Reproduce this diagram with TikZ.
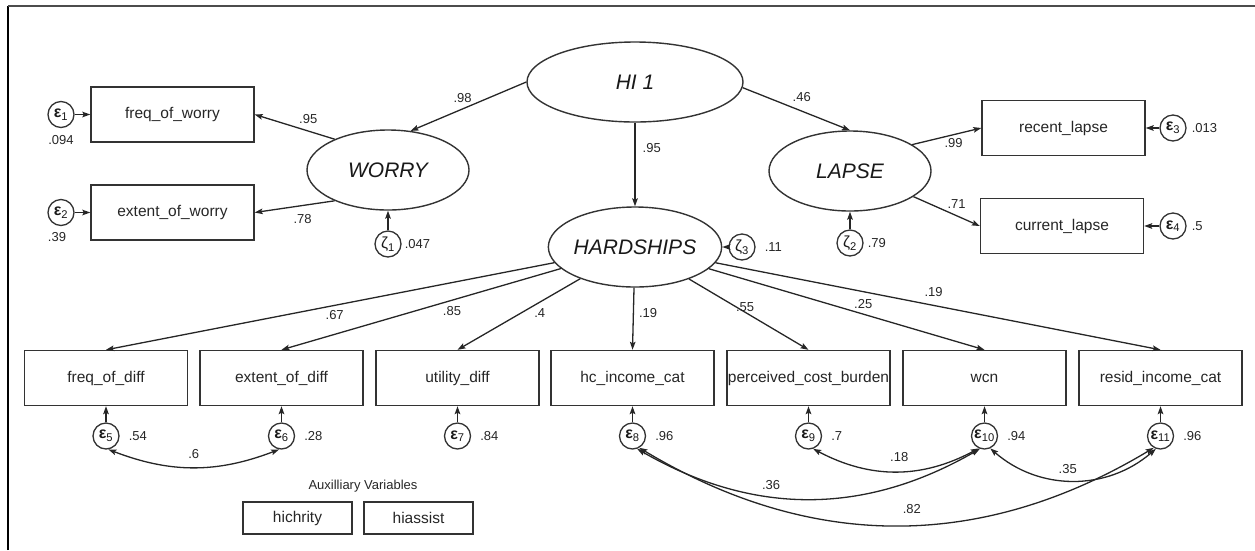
\documentclass[tikz,border=0pt]{standalone}
\usepackage{fontspec}
\setmainfont{Liberation Sans}
\usetikzlibrary{arrows.meta}
\usetikzlibrary{shapes.geometric}
\usetikzlibrary{positioning}

\newcommand{\errlab}[1]{{\bfseries ε}\textsubscript{#1}}
\newcommand{\zetlab}[1]{ζ\textsubscript{#1}}

\begin{document}
\begin{tikzpicture}[
	x=1pt, y=-1pt,
	>={Stealth[length=8pt,width=5.6pt,inset=1.5pt]},
	obs/.style={rectangle, draw=black!80, line width=1.4pt, minimum width=163pt, minimum height=55pt, inner sep=0pt, text=black!85, font=\fontsize{15.5}{18}\selectfont},
	aux/.style={obs, minimum width=109pt, minimum height=32pt},
	lat/.style={ellipse, draw=black!80, line width=1.4pt, minimum width=162pt, minimum height=80pt, inner sep=0pt, text=black!90, font=\fontsize{21}{24}\selectfont\itshape},
	err/.style={circle, draw=black!80, line width=1.3pt, minimum size=26pt, inner sep=0pt, text=black!90, font=\fontsize{16}{18}\selectfont},
	coef/.style={inner sep=1pt, text=black!85, font=\fontsize{13}{15}\selectfont},
	link/.style={->, line width=1.3pt, draw=black!85},
	cov/.style={<->, line width=1.3pt, draw=black!85},
	]

	\useasboundingbox (0,0) rectangle (1255,550);
	\draw[line width=2.4pt] (8,550) -- (8,6);
	\draw[line width=2pt, black!70] (8,6) -- (1255,6);

	% latent variables
	\node[lat, minimum width=216pt] (HI) at (635,82) {HI 1};
	\node[lat] (WORRY) at (388,170) {WORRY};
	\node[lat] (LAPSE) at (850,171) {LAPSE};
	\node[lat] (HARD) at (635,247) {HARDSHIPS};

	% indicators
	\node[obs] (fw) at (172.5,114.5) {freq\_of\_worry};
	\node[obs] (ew) at (172.5,212.5) {extent\_of\_worry};
	\node[obs] (rl) at (1063.5,128) {recent\_lapse};
	\node[obs] (cl) at (1062,226) {current\_lapse};

	\node[obs] (fd) at (106,378) {freq\_of\_diff};
	\node[obs] (ed) at (281.5,378) {extent\_of\_diff};
	\node[obs] (ud) at (457.5,378) {utility\_diff};
	\node[obs] (hc) at (632.5,378) {hc\_income\_cat};
	\node[obs] (pcb) at (808.5,378) {perceived\_cost\_burden};
	\node[obs] (wcn) at (984.5,378) {wcn};
	\node[obs] (ric) at (1160.5,378) {resid\_income\_cat};

	% errors
	\node[err] (e1) at (61,114.5) {\errlab{1}};
	\node[err] (e2) at (61,212.5) {\errlab{2}};
	\node[err] (e3) at (1173,128) {\errlab{3}};
	\node[err] (e4) at (1173,226) {\errlab{4}};
	\node[err] (z1) at (388,244) {\zetlab{1}};
	\node[err] (z2) at (850,243) {\zetlab{2}};
	\node[err] (z3) at (742,247) {\zetlab{3}};

	\node[err] (e5) at (106,436) {\errlab{5}};
	\node[err] (e6) at (281.5,436) {\errlab{6}};
	\node[err] (e7) at (457.5,436) {\errlab{7}};
	\node[err] (e8) at (632.5,436) {\errlab{8}};
	\node[err] (e9) at (808.5,436) {\errlab{9}};
	\node[err] (e10) at (984.5,436) {\errlab{10}};
	\node[err] (e11) at (1160.5,436) {\errlab{11}};

	% variances
	\node[coef, below=6pt of e1] (v1) {.094};
	\node[coef, below=5pt of e2, xshift=-4pt] (v2) {.39};
	\node[coef, right=4pt of e3] (v3) {.013};
	\node[coef, right=4pt of e4] (v4) {.5};
	\node[coef, right=2pt of z1] (w1) {.047};
	\node[coef, right=3pt of z2] (w2) {.79};
	\node[coef, right=8pt of z3] (w3) {.11};
	\node[coef, right=8pt of e5] (v5) {.54};
	\node[coef, right=8pt of e6] (v6) {.28};
	\node[coef, right=8pt of e7] (v7) {.84};
	\node[coef, right=8pt of e8] (v8) {.96};
	\node[coef, right=8pt of e9] (v9) {.7};
	\node[coef, right=8pt of e10] (v10) {.94};
	\node[coef, right=8pt of e11] (v11) {.96};

	% structural paths
	\draw[link] (HI.west) -- node[coef, pos=0.55, above=5pt] (c1) {.98} (WORRY.60);
	\draw[link] (HI.-3) -- node[coef, pos=0.55, above=8pt] (c2) {.46} (LAPSE.north);
	\draw[link] (HI.south) -- node[coef, pos=0.3, right=6pt] (c3) {.95} (HARD.north);

	% measurement paths
	\draw[link] (WORRY.150) -- node[coef, pos=0.33, above=6pt] (c4) {.95} (fw.east);
	\draw[link] (WORRY.210) -- node[coef, pos=0.4, below=7pt] (c5) {.78} (ew.east);
	\draw[link] (LAPSE.23) -- node[coef, pos=0.6, below=2pt] (c6) {.99} (rl.west);
	\draw[link] (LAPSE.-22) -- node[coef, pos=0.65, above=6pt] (c7) {.71} (cl.west);

	\draw[link] (HARD) -- node[coef, pos=0.49, below=3pt] (c8) {.67} (fd.north);
	\draw[link] (HARD) -- node[coef, pos=0.39, below=5pt] (c9) {.85} (ed.north);
	\draw[link] (HARD) -- node[coef, pos=0.33, below=5pt] (c10) {.4} (ud.north);
	\draw[link] (HARD) -- node[coef, pos=0.4, right=4pt] (c11) {.19} (hc.north);
	\draw[link] (HARD) -- node[coef, pos=0.47, above=-1pt] (c12) {.55} (pcb.north);
	\draw[link] (HARD) -- node[coef, pos=0.56, above=4pt] (c13) {.25} (wcn.north);
	\draw[link] (HARD) -- node[coef, pos=0.49, above=7pt] (c14) {.19} (ric.north);

	% error arrows
	\draw[link] (e1) -- (fw);
	\draw[link] (e2) -- (ew);
	\draw[link] (e3) -- (rl);
	\draw[link] (e4) -- (cl);
	\draw[link] (z1) -- (WORRY);
	\draw[link] (z2) -- (LAPSE);
	\draw[link] (z3) -- (HARD);
	\draw[link] (e5) -- (fd);
	\draw[link] (e6) -- (ed);
	\draw[link] (e7) -- (ud);
	\draw[link] (e8) -- (hc);
	\draw[link] (e9) -- (pcb);
	\draw[link] (e10) -- (wcn);
	\draw[link] (e11) -- (ric);

	% covariances
	\draw[cov] (e5.-80) to[bend right=21] node[coef, pos=0.5, above=7pt] (k1) {.6} (e6.-100);
	\draw[cov] (e8.-70) to[bend right=30] node[coef, pos=0.39, above=5pt] (k2) {.36} (e10.-110);
	\draw[cov] (e8.-60) to[bend right=31] node[coef, pos=0.53, above=10pt] (k3) {.82} (e11.-120);
	\draw[cov] (e9.-70) to[bend right=28] node[coef, pos=0.52, above=8pt] (k4) {.18} (e10.-115);
	\draw[cov] (e10.-65) to[bend right=41] node[coef, pos=0.47, above=5pt] (k5) {.35} (e11.-110);

	% auxiliary variables
	\node[coef] (auxt) at (363,486) {Auxilliary Variables};
	\node[aux] (hich) at (297.5,518) {hichrity};
	\node[aux] (hias) at (418.5,518) {hiassist};

\end{tikzpicture}
\end{document}
